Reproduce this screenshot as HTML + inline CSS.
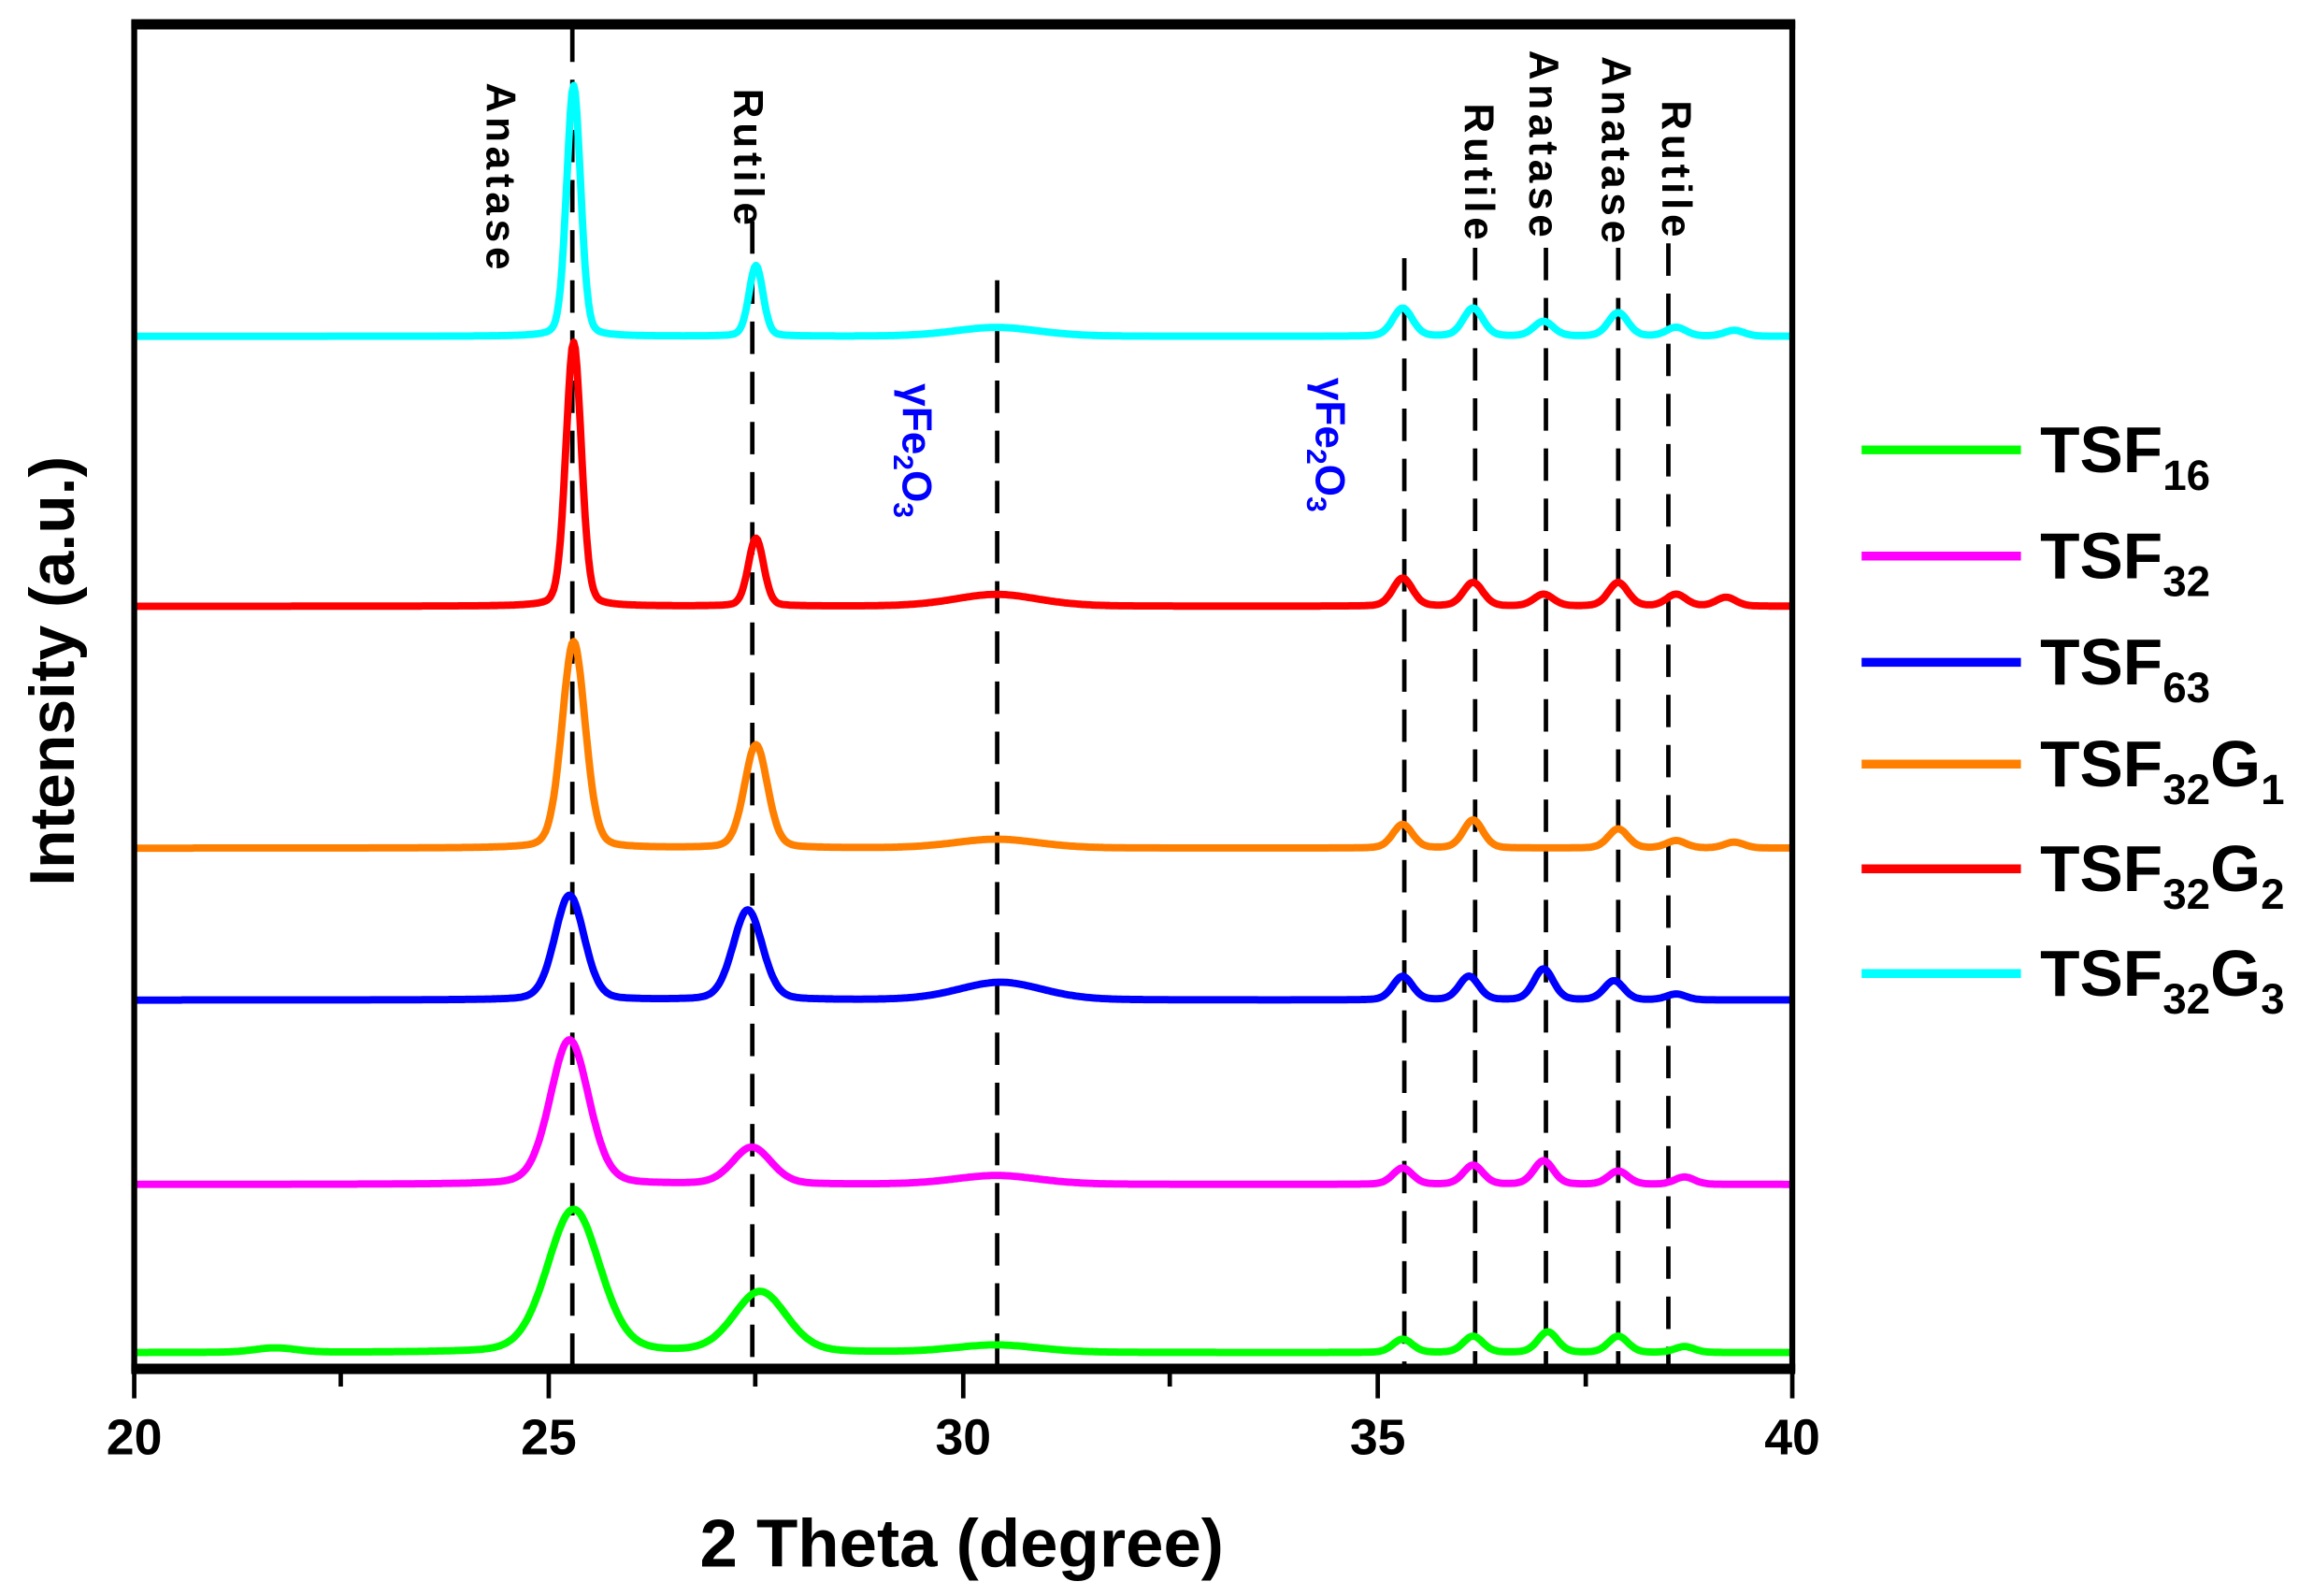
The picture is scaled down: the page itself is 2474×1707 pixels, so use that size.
<!DOCTYPE html>
<html><head><meta charset="utf-8"><style>
html,body{margin:0;padding:0;background:#fff;}
svg{display:block;}
text{font-family:"Liberation Sans",Arial,sans-serif;font-weight:bold;}
</style></head><body>
<svg id="s" width="2474" height="1707" viewBox="0 0 1568 1082" preserveAspectRatio="none" xmlns="http://www.w3.org/2000/svg">
<g id="dash" stroke="#000" stroke-width="3" stroke-dasharray="22,12" fill="none">
<line x1="388" y1="20" x2="388" y2="928"/>
<line x1="510" y1="150" x2="510" y2="928"/>
<line x1="676" y1="190" x2="676" y2="928"/>
<line x1="952" y1="175" x2="952" y2="928"/>
<line x1="1000" y1="168" x2="1000" y2="928"/>
<line x1="1048" y1="168" x2="1048" y2="928"/>
<line x1="1097" y1="168" x2="1097" y2="928"/>
<line x1="1131" y1="165" x2="1131" y2="928"/>
</g>
<g id="curves" fill="none" stroke-width="5" stroke-linejoin="round"></g>
<g fill="none" stroke="#000">
<rect x="91" y="15" width="1124" height="913" stroke-width="4"/>
<line x1="89" y1="928" x2="1217" y2="928" stroke-width="7"/>
<line x1="89" y1="17" x2="1217" y2="17" stroke-width="6"/>
</g>
<g stroke="#000" stroke-width="3">
<line x1="91" y1="928" x2="91" y2="948"/><line x1="372" y1="928" x2="372" y2="948"/><line x1="653" y1="928" x2="653" y2="948"/><line x1="934" y1="928" x2="934" y2="948"/><line x1="1215" y1="928" x2="1215" y2="948"/>
<line x1="231" y1="928" x2="231" y2="940"/><line x1="512" y1="928" x2="512" y2="940"/><line x1="793" y1="928" x2="793" y2="940"/><line x1="1075" y1="928" x2="1075" y2="940"/>
</g>
<g font-size="34" text-anchor="middle">
<text x="91" y="986">20</text><text x="372" y="986">25</text><text x="653" y="986">30</text><text x="934" y="986">35</text><text x="1215" y="986">40</text>
</g>
<text x="652" y="1062" font-size="46" text-anchor="middle">2 Theta (degree)</text>
<text transform="translate(50,455) rotate(-90)" font-size="43" text-anchor="middle">Intensity (a.u.)</text>
<g font-size="28" letter-spacing="3">
<text transform="translate(330,56) rotate(90)">Anatase</text>
<text transform="translate(498,60) rotate(90)">Rutile</text>
<text transform="translate(993,70) rotate(90)">Rutile</text>
<text transform="translate(1037,34) rotate(90)">Anatase</text>
<text transform="translate(1086,38) rotate(90)">Anatase</text>
<text transform="translate(1127,68) rotate(90)">Rutile</text>
</g>
<g font-size="28" fill="#0000ff">
<text transform="translate(612,260) rotate(90)">γFe<tspan font-size="19" dy="6">2</tspan><tspan dy="-6">O</tspan><tspan font-size="19" dy="6">3</tspan></text>
<text transform="translate(892,256) rotate(90)">γFe<tspan font-size="19" dy="6">2</tspan><tspan dy="-6">O</tspan><tspan font-size="19" dy="6">3</tspan></text>
</g>
<g stroke-width="6">
<line x1="1262" y1="305" x2="1370" y2="305" stroke="#00ff00"/>
<line x1="1262" y1="377" x2="1370" y2="377" stroke="#ff00ff"/>
<line x1="1262" y1="449" x2="1370" y2="449" stroke="#0000ff"/>
<line x1="1262" y1="518" x2="1370" y2="518" stroke="#ff8000"/>
<line x1="1262" y1="589" x2="1370" y2="589" stroke="#ff0000"/>
<line x1="1262" y1="660" x2="1370" y2="660" stroke="#00ffff"/>
</g>
<g font-size="44">
<text x="1383" y="320">TSF<tspan font-size="29" dy="12">16</tspan></text>
<text x="1383" y="392">TSF<tspan font-size="29" dy="12">32</tspan></text>
<text x="1383" y="464">TSF<tspan font-size="29" dy="12">63</tspan></text>
<text x="1383" y="533">TSF<tspan font-size="29" dy="12">32</tspan><tspan dy="-12">G</tspan><tspan font-size="29" dy="12">1</tspan></text>
<text x="1383" y="604">TSF<tspan font-size="29" dy="12">32</tspan><tspan dy="-12">G</tspan><tspan font-size="29" dy="12">2</tspan></text>
<text x="1383" y="675">TSF<tspan font-size="29" dy="12">32</tspan><tspan dy="-12">G</tspan><tspan font-size="29" dy="12">3</tspan></text>
</g>
</svg>
<script>
var X=function(t){return 91+(t-20)*56.2;};
var S=[
["#00ff00",917,0.75,[[25.3,97],[27.55,41],[30.4,5],[35.3,9],[36.15,11],[37.05,14],[37.9,11],[38.7,4],[21.7,3]]],
["#ff00ff",803,0.55,[[25.25,98],[27.45,25],[30.4,6],[35.3,11],[36.15,13],[37.0,16],[37.9,9],[38.7,5]]],
["#0000ff",678,0.42,[[25.25,71],[27.4,61],[30.45,12],[35.3,16],[36.1,16],[37.0,21],[37.85,13],[38.6,4]]],
["#ff8000",575,0.33,[[25.3,140],[27.5,70],[30.4,6],[35.3,16],[36.15,19],[37.9,13],[38.6,5],[39.3,4]]],
["#ff0000",411,0.22,[[25.3,179],[27.5,46],[30.4,8],[35.3,19],[36.15,16],[37.0,8],[37.9,16],[38.6,8],[39.2,6]]],
["#00ffff",228,0.2,[[25.3,170],[27.5,48],[30.4,6],[35.3,19],[36.15,19],[37.0,10],[37.9,16],[38.6,6],[39.3,4]]]
];
var g=document.getElementById('curves'),h='';
S.forEach(function(s){
 var d='',w=s[2];
 for(var t=20;t<=40.001;t+=0.02){
  var y=0;
  s[3].forEach(function(p){
   var ww=(p[0]>30&&p[0]<31)?1.2:(p[0]>35?0.28:(p[0]<23?0.6:w));
   var u=(t-p[0])/(ww/2);
   y+=p[1]*(0.8*Math.exp(-0.693*u*u)+0.2/(1+u*u));
  });
  d+=(d?'L':'M')+X(t).toFixed(1)+','+(s[1]-y).toFixed(1);
 }
 h+='<path d="'+d+'" stroke="'+s[0]+'"/>';
});
g.innerHTML=h;
</script>
</body></html>
